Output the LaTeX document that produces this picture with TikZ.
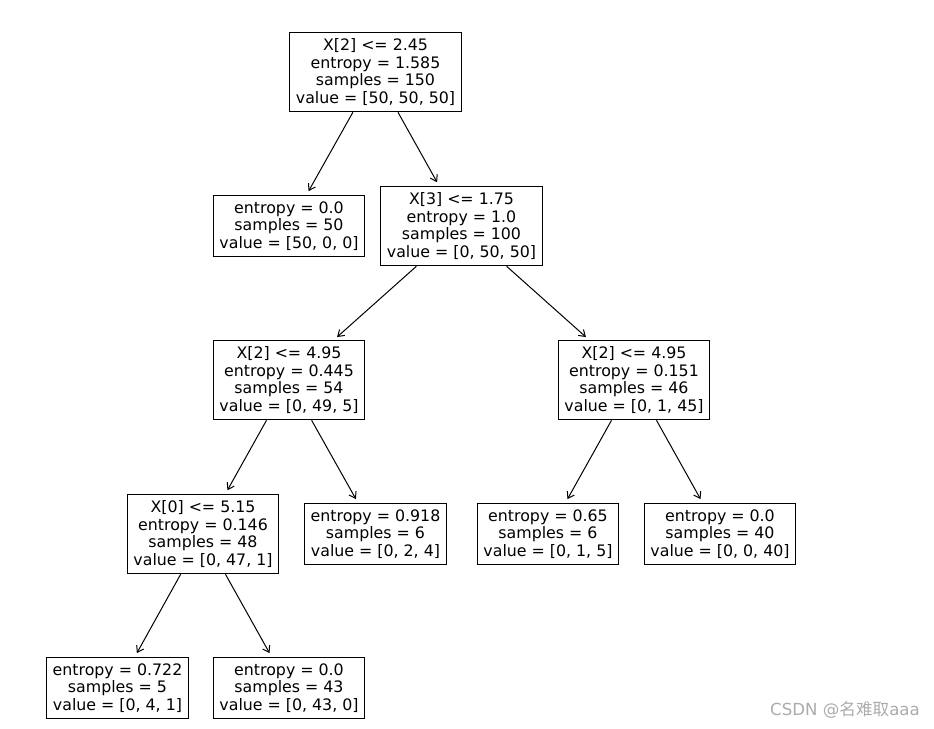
\documentclass[tikz,border=0pt]{standalone}
\usepackage{fontspec}
\setmainfont{DejaVu Sans}
\newfontfamily\cjk{Noto Sans CJK SC}
\usetikzlibrary{arrows.meta}

\begin{document}
\begin{tikzpicture}
  [x=1pt,y=-1pt,line width=1pt,
   box/.style={rectangle,draw,align=center,inner xsep=6pt,inner ysep=6.5pt,
     font=\fontsize{15.8}{17.5}\selectfont},
   edge/.style={-{Straight Barb[length=6pt,width=8pt]},shorten >=4pt}]
  \useasboundingbox (0,0) rectangle (934,728);
  \node[box] (n0) at (375.5,72) {X[2] <= 2.45\\entropy = 1.585\\samples = 150\\value = [50, 50, 50]};
  \node[box] (n1) at (289,226) {entropy = 0.0\\samples = 50\\value = [50, 0, 0]};
  \node[box] (n2) at (461.5,226) {X[3] <= 1.75\\entropy = 1.0\\samples = 100\\value = [0, 50, 50]};
  \node[box] (n3) at (289,380) {X[2] <= 4.95\\entropy = 0.445\\samples = 54\\value = [0, 49, 5]};
  \node[box] (n4) at (634,380) {X[2] <= 4.95\\entropy = 0.151\\samples = 46\\value = [0, 1, 45]};
  \node[box] (n5) at (203,534) {X[0] <= 5.15\\entropy = 0.146\\samples = 48\\value = [0, 47, 1]};
  \node[box] (n6) at (375.5,534) {entropy = 0.918\\samples = 6\\value = [0, 2, 4]};
  \node[box] (n7) at (548,534) {entropy = 0.65\\samples = 6\\value = [0, 1, 5]};
  \node[box] (n8) at (720,534) {entropy = 0.0\\samples = 40\\value = [0, 0, 40]};
  \node[box] (n9) at (117.5,688) {entropy = 0.722\\samples = 5\\value = [0, 4, 1]};
  \node[box] (n10) at (289,688) {entropy = 0.0\\samples = 43\\value = [0, 43, 0]};

  \foreach \from/\to in {n0/n1, n0/n2, n2/n3, n2/n4, n3/n5, n3/n6, n4/n7, n4/n8, n5/n9, n5/n10}
    \draw [edge] (\from) -- (\to);

  \node[text=black!33,font=\fontsize{16.6}{18}\selectfont] (mark) at (845,710) {CSDN @{\cjk 名难取}aaa};
\end{tikzpicture}
\end{document}
